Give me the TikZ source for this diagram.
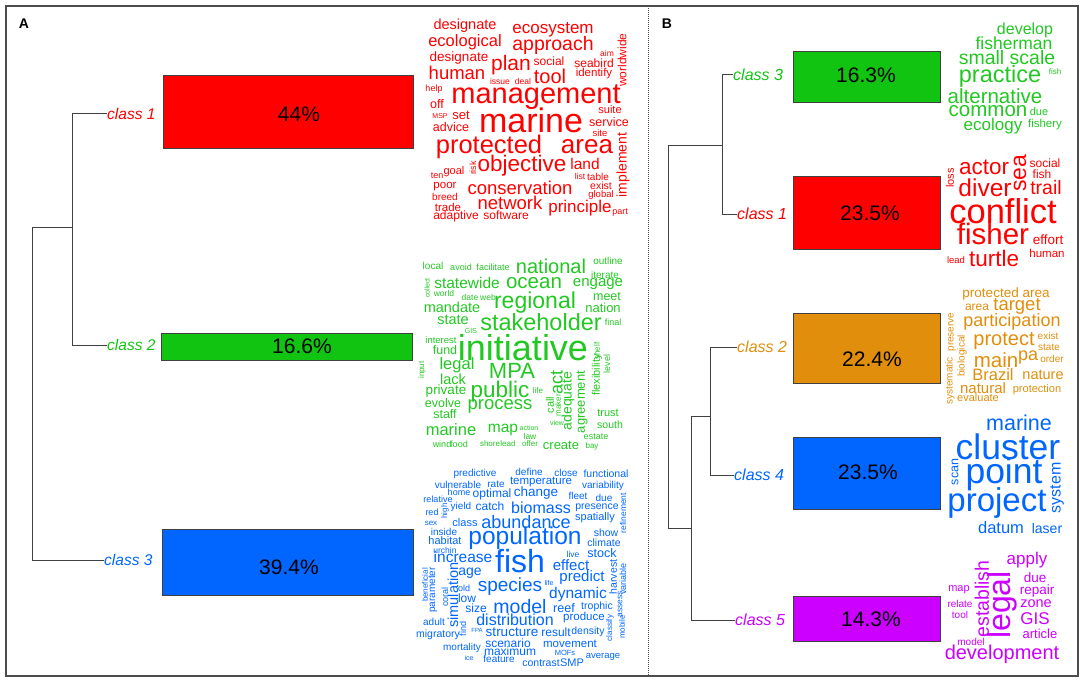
\documentclass[tikz,border=0pt]{standalone}
\usepackage{fontspec}
\setmainfont{Liberation Sans}

\definecolor{clsred}{RGB}{255,0,0}
\definecolor{clsgreen}{RGB}{18,196,18}
\definecolor{cloudgreen}{RGB}{34,200,34}
\definecolor{clsblue}{RGB}{0,102,255}
\definecolor{clsorange}{RGB}{224,142,12}
\definecolor{clspurple}{RGB}{204,0,255}

\tikzset{
  frame/.style={draw=black!70, line width=1.3pt},
  bar/.style={draw=black!75, line width=0.8pt, inner sep=0pt},
  pct/.style={inner sep=0pt, font=\fontsize{21}{21}\selectfont},
  cls/.style={inner sep=0pt, anchor=west},
  tree/.style={draw=black!75, line width=1pt},
  word/.style={inner sep=0pt},
}

\begin{document}
\begin{tikzpicture}[x=1pt,y=-1pt]
    \useasboundingbox (0,0) rectangle (1084,682);
    \draw[frame] (6,6) rectangle (1078,676);
    \draw[black!70, line width=1pt, densely dotted] (648,6) -- (648,676);
    \node[font=\bfseries\fontsize{14}{14}\selectfont] (lblA) at (24,24) {A};
    \node[font=\bfseries\fontsize{14}{14}\selectfont] (lblB) at (667,24) {B};

    % panel A: bars and classes
    \node[bar, fill=clsred, minimum width=250pt, minimum height=73pt] (barA1) at (288,112) {};
    \node[bar, fill=clsgreen, minimum width=251pt, minimum height=27pt] (barA2) at (286.5,346.5) {};
    \node[bar, fill=clsblue, minimum width=251pt, minimum height=66pt] (barA3) at (287.5,562) {};
    \node[pct] (pA1) at (299,114) {44\%};
    \node[pct] (pA2) at (302,346) {16.6\%};
    \node[pct] (pA3) at (289,567) {39.4\%};
    \node[cls, text=clsred, font=\fontsize{15.5}{15.5}\selectfont\itshape] (cA1) at (107,113.5) {class 1};
    \node[cls, text=clsgreen, font=\fontsize{15.5}{15.5}\selectfont\itshape] (cA2) at (107,345) {class 2};
    \node[cls, text=clsblue, font=\fontsize{15.5}{15.5}\selectfont\itshape] (cA3) at (104,560) {class 3};
    \coordinate (jA12) at (72,227);
    \coordinate (rootA) at (32,394);
    \draw[tree] (cA1.west) -| (jA12);
    \draw[tree] (cA2.west) -| (jA12);
    \draw[tree] (jA12) -| (rootA);
    \draw[tree] (cA3.west) -| (rootA);

    % panel B: bars and classes
    \node[bar, fill=clsgreen, minimum width=147pt, minimum height=51pt] (barB3) at (866.5,77) {};
    \node[bar, fill=clsred, minimum width=147pt, minimum height=73pt] (barB1) at (866.5,212.5) {};
    \node[bar, fill=clsorange, minimum width=147pt, minimum height=70pt] (barB2) at (866.5,348) {};
    \node[bar, fill=clsblue, minimum width=147pt, minimum height=72pt] (barB4) at (866.5,473) {};
    \node[bar, fill=clspurple, minimum width=147pt, minimum height=45pt] (barB5) at (866.5,618.5) {};
    \node[pct] (pB3) at (866,75.5) {16.3\%};
    \node[pct] (pB1) at (870,213) {23.5\%};
    \node[pct] (pB2) at (872,359) {22.4\%};
    \node[pct] (pB4) at (868,472) {23.5\%};
    \node[pct] (pB5) at (871,619) {14.3\%};
    \node[cls, text=clsgreen, font=\fontsize{16}{16}\selectfont\itshape] (cB3) at (733,75) {class 3};
    \node[cls, text=clsred, font=\fontsize{16}{16}\selectfont\itshape] (cB1) at (737,214) {class 1};
    \node[cls, text=clsorange, font=\fontsize{16}{16}\selectfont\itshape] (cB2) at (737,347) {class 2};
    \node[cls, text=clsblue, font=\fontsize{16}{16}\selectfont\itshape] (cB4) at (734,475) {class 4};
    \node[cls, text=clspurple, font=\fontsize{16}{16}\selectfont\itshape] (cB5) at (735,620) {class 5};
    \coordinate (jB31) at (722,146);
    \coordinate (jB24) at (710,416);
    \coordinate (jB245) at (691,528);
    \coordinate (rootB) at (668,337);
    \draw[tree] (cB3.west) -| (jB31);
    \draw[tree] (cB1.west) -| (jB31);
    \draw[tree] (cB2.west) -| (jB24);
    \draw[tree] (cB4.west) -| (jB24);
    \draw[tree] (jB24) -| (jB245);
    \draw[tree] (cB5.west) -| (jB245);
    \draw[tree] (jB31) -| (rootB);
    \draw[tree] (jB245) -| (rootB);

    % word cloud A, class 1
    \foreach \wrd/\x/\y/\fs/\rot [count=\i] in {designate/465/26/14.5/0, ecosystem/553/30/17/0,
      ecological/465/42/16.5/0, approach/553/45/19.5/0, designate/459/58/13.5/0, plan/511/65/21/0,
      social/549/61/12/0, tool/550/76/20/0, aim/607/53/8.5/0, seabird/594/63/12/0,
      identify/594/74/11.5/0, worldwide/622/60/12/90, human/457/73/18.5/0, issue/500/81/8.5/0,
      deal/523/81/8.5/0, help/434/89/9/0, management/536/97/29/0, off/437/104/12.5/0,
      suite/610/110/11/0, MSP/440/116/7/0, set/461/115/13/0, marine/531/120/34/0,
      service/609/122/12.5/0, advice/451/127/12.5/0, site/600/133/9.5/0, protected/489/147/25.5/0,
      area/587/147/26/0, implement/623/165/14/90, goal/454/172/11/0, risk/473/168/9/90,
      objective/522/166/22.5/0, land/585/164/15.5/0, ten/437/176/9/0, list/580/176/8.5/0,
      table/598/177/10/0, poor/445/187/11.5/0, conservation/520/188/18.5/0, exist/601/186/10.5/0,
      global/601/195/9.5/0, breed/445/197/10/0, network/510/203/18.5/0, principle/580/208/17/0,
      trade/448/207/11.5/0, part/620/213/9/0, adaptive/456/216/12/0, software/506/215/12/0}
      \node[word, text=clsred, font=\fontsize{\fs}{\fs}\selectfont, rotate=\rot] (wA1-\i) at (\x,\y) {\wrd};

    % word cloud A, class 2
    \foreach \wrd/\x/\y/\fs/\rot [count=\i] in {local/433/266/10/0, avoid/461/267/9/0,
      facilitate/493/267/9/0, national/551/266/20/0, outline/608/261/10/0, iterate/605/275/10/0,
      collect/427/288/7/90, statewide/467/283/15.5/0, ocean/534/283/20.5/0, engage/598/284/15/0,
      world/444/293/8.5/0, date/470/297/8.5/0, web/488/297/8.5/0, meet/607/297/12.5/0,
      mandate/452/307/14.5/0, regional/535/303/23/0, nation/603/308/13/0, state/453/320/14.5/0,
      stakeholder/541/322/23.5/0, final/613/322/9/0, GIS/471/331/7/0, interest/441/340/9.5/0,
      initiative/523/348/36/0, fund/445/350/12.5/0, shelf/597/351/8/90, level/607/364/9/90,
      legal/457/365/16.5/0, MPA/512/371/22/0, input/422/370/8/90, act/557/382/18/90,
      adequate/568/401/14/90, agreement/582/402/13/90, flexibility/597/375/11/90,
      lack/453/379/14.5/0, private/446/391/13.5/0, public/500/392/22.5/0, life/538/391/8/0,
      evolve/443/403/12.5/0, process/500/406/18.5/0, call/550/405/11/90, maker/558/405/8/90,
      staff/445/414/12.5/0, trust/608/413/11/0, south/610/425/10.5/0, view/557/423/7/0,
      action/529/428/7/0, marine/451/430/16.5/0, map/503/430/15.5/0, law/530/436/8.5/0,
      estate/596/437/9/0, bay/592/446/8/0, wind/442/444/9/0, food/459/444/9/0,
      shore/490/444/8/0, lead/508/444/8/0, offer/530/444/8/0, create/561/445/13/0}
      \node[word, text=cloudgreen, font=\fontsize{\fs}{\fs}\selectfont, rotate=\rot] (wA2-\i) at (\x,\y) {\wrd};

    % word cloud A, class 3
    \foreach \wrd/\x/\y/\fs/\rot [count=\i] in {predictive/475/474/10/0, define/529/472/10/0,
      close/566/473/10/0, functional/606/474/10.5/0, vulnerable/458/485/10/0, rate/496/484/10/0,
      temperature/541/482/11.5/0, variability/603/486/10/0, home/459/492/9/0, optimal/492/494/12/0,
      change/536/493/13.5/0, fleet/578/496/10/0, due/604/498/10/0, refinement/623/513/8.5/90,
      relative/438/499/9/0, red/432/512/9/0, high/445/511/8/90, yield/461/507/10/0,
      catch/490/506/12/0, biomass/541/508/16/0, presence/597/508/10.5/0, sex/431/523/8/0,
      class/465/523/11/0, abundance/526/522/18/0, spatially/595/518/11/0, inside/444/532/10/0,
      population/525/538/24.5/0, show/606/533/10.5/0, habitat/445/541/11/0, climate/604/543/10.5/0,
      urchin/445/550/8.5/0, stock/602/553/12.5/0, live/573/554/8.5/0, fish/520/561/32/0,
      increase/463/557/15.5/0, effect/571/565/15/0, age/470/573/14/0, harvest/613/577/10.5/90,
      variable/623/579/9/90, beneficial/425/585/8/90, parameter/433/590/10/90,
      simulation/453/595/14.5/90, predict/582/578/15/0, species/510/587/19/0, old/464/588/9/0,
      life/549/583/7/0, low/467/598/12/0, dynamic/578/594/15.5/0, coral/445/597/9/90,
      assess/620/604/8.5/90, mobile/622/627/8/90, classify/610/628/8/90, model/520/607/19.5/0,
      size/476/608/12/0, reef/564/608/12.5/0, trophic/597/607/10.5/0, adult/434/622/10/0,
      distribution/515/620/16/0, produce/584/618/11.5/0, find/463/629/9/90, FPA/477/630/6/0,
      migratory/438/635/10.5/0, structure/512/632/13.5/0, result/556/632/12/0, density/588/632/10.5/0,
      scenario/508/643/12/0, movement/570/644/11.5/0, mortality/462/648/10/0, maximum/510/651/12/0,
      MOFs/565/653/7.5/0, ice/469/658/7/0, feature/499/659/10/0, contrast/541/663/10.5/0,
      SMP/572/663/11/0, average/603/657/9.5/0}
      \node[word, text=clsblue, font=\fontsize{\fs}{\fs}\selectfont, rotate=\rot] (wA3-\i) at (\x,\y) {\wrd};

    % word cloud B, class 3
    \foreach \wrd/\x/\y/\fs/\rot [count=\i] in {develop/1025/30/16/0, fisherman/1014/43/17.5/0,
      small scale/1007/58/19.5/0, practice/1000/76/23.5/0, fish/1055/72/8/0, alternative/995/96/20.5/0,
      common/988/111/20.5/0, due/1039/112/11/0, ecology/993/126/17/0, fishery/1045/125/11.5/0}
      \node[word, text=cloudgreen, font=\fontsize{\fs}{\fs}\selectfont, rotate=\rot] (wB3-\i) at (\x,\y) {\wrd};

    % word cloud B, class 1
    \foreach \wrd/\x/\y/\fs/\rot [count=\i] in {actor/984/167/22.5/0, sea/1020/173/23/90,
      loss/950/178/11/90, social/1045/163/12/0, fish/1042/174/12/0, diver/985/188/24.5/0,
      trail/1046/188/19.5/0, conflict/1003/211/34.5/0, fisher/993/234/29.5/0, effort/1048/240/13.5/0,
      human/1047/253/11.5/0, lead/956/260/9.5/0, turtle/994/258/22.5/0}
      \node[word, text=clsred, font=\fontsize{\fs}{\fs}\selectfont, rotate=\rot] (wB1-\i) at (\x,\y) {\wrd};

    % word cloud B, class 2
    \foreach \wrd/\x/\y/\fs/\rot [count=\i] in {protected area/1006/294/13.5/0, area/977/307/12/0,
      target/1017/306/18.5/0, participation/1012/322/18/0, preserve/952/332/10/90,
      protect/1004/341/20/0, exist/1048/336/10/0, state/1049/347/10/0, biological/962/356/10/90,
      main/996/360/20.5/0, pa/1028/358/18/0, order/1052/359/10/0, systematic/950/381/10/90,
      Brazil/993/375/16.5/0, nature/1043/375/14.5/0, natural/983/388/15/0,
      protection/1037/390/11/0, evaluate/978/398/11/0}
      \node[word, text=clsorange, font=\fontsize{\fs}{\fs}\selectfont, rotate=\rot] (wB2-\i) at (\x,\y) {\wrd};

    % word cloud B, class 4
    \foreach \wrd/\x/\y/\fs/\rot [count=\i] in {marine/1019/423/21.5/0, cluster/1008/447/35.5/0,
      scan/955/472/12.5/90, point/1004/474/35.5/0, system/1057/488/16/90, project/997/503/33/0,
      datum/1001/528/16.5/0, laser/1047/528/14/0}
      \node[word, text=clsblue, font=\fontsize{\fs}{\fs}\selectfont, rotate=\rot] (wB4-\i) at (\x,\y) {\wrd};

    % word cloud B, class 5
    \foreach \wrd/\x/\y/\fs/\rot [count=\i] in {apply/1027/560/17/0, establish/982/599/19.5/90,
      legal/1002/605/32/90, map/959/590/11/0, due/1035/578/13.5/0, repair/1037/591/13.5/0,
      relate/960/604/10/0, zone/1036/604/14.5/0, tool/960/615/10/0, GIS/1035/619/17/0,
      article/1040/634/13/0, model/971/642/10/0, development/1002/654/20/0}
      \node[word, text=clspurple, font=\fontsize{\fs}{\fs}\selectfont, rotate=\rot] (wB5-\i) at (\x,\y) {\wrd};
\end{tikzpicture}
\end{document}
